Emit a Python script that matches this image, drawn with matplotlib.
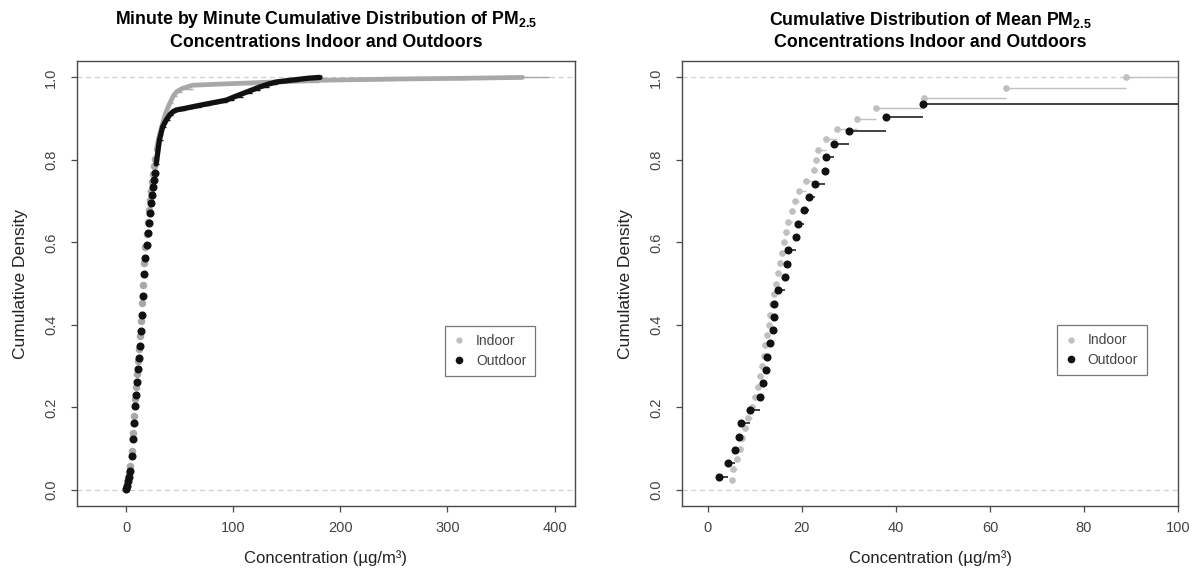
import numpy as np
import matplotlib
matplotlib.use("Agg")
import matplotlib.pyplot as plt
from matplotlib.lines import Line2D

plt.rcParams["font.family"] = ["Liberation Sans", "DejaVu Sans"]
plt.rcParams["mathtext.fontset"] = "custom"
plt.rcParams["mathtext.rm"] = "Liberation Sans"
plt.rcParams["mathtext.bf"] = "Liberation Sans:bold"

# ---- Minute-by-minute ECDF knots (concentration, cumulative fraction) ----
minute_outdoor_x = [0, 1, 2, 3, 4, 5, 6, 7, 8, 9, 10, 11, 12, 13, 14, 15, 16, 17,
                    18, 19, 20, 21, 22, 23, 24, 25, 26, 27, 28,
                    31, 34, 37.5, 40.6, 43.7, 46.9, 55, 62.4, 70, 78, 86, 93.7,
                    101, 109, 117, 125, 133, 140.6, 150, 160, 170, 181]
minute_outdoor_f = [0.002, 0.010, 0.022, 0.031, 0.046, 0.082, 0.123, 0.163, 0.203,
                    0.231, 0.261, 0.292, 0.320, 0.348, 0.385, 0.425, 0.469, 0.524,
                    0.562, 0.594, 0.622, 0.648, 0.671, 0.695, 0.715, 0.735, 0.751,
                    0.768, 0.790,
                    0.848, 0.880, 0.897, 0.909, 0.917, 0.921, 0.925, 0.929, 0.933,
                    0.937, 0.941, 0.945, 0.953, 0.961, 0.969, 0.977, 0.984, 0.989,
                    0.992, 0.995, 0.998, 1.000]

minute_indoor_x = [0, 1, 2, 3, 4, 5, 6, 7, 8, 9, 10, 11, 12, 13, 14, 15, 16, 17,
                   18, 19, 20, 21, 22, 23, 24, 25, 26, 27, 28,
                   31, 34, 37, 40.6, 44, 47, 52, 62, 80, 100, 130, 180, 250, 320, 370]
minute_indoor_f = [0.004, 0.014, 0.028, 0.040, 0.058, 0.095, 0.138, 0.180, 0.220,
                   0.250, 0.282, 0.312, 0.342, 0.372, 0.410, 0.452, 0.497, 0.550,
                   0.588, 0.620, 0.650, 0.678, 0.702, 0.725, 0.746, 0.766, 0.784,
                   0.803, 0.824,
                   0.860, 0.889, 0.915, 0.937, 0.955, 0.965, 0.973, 0.981, 0.983,
                   0.985, 0.988, 0.993, 0.996, 0.998, 1.000]

# ---- Per-site mean concentrations (ug/m3), sorted ----
mean_outdoor = [2.3, 4.2, 5.7, 6.7, 7.1, 9.0, 11.1, 11.7, 12.4, 12.6, 13.3, 13.9,
                14.0, 14.1, 15.0, 16.4, 16.8, 17.0, 18.8, 19.1, 20.5, 21.6, 22.7,
                24.9, 25.2, 26.9, 30.1, 37.9, 45.7, 110.0, 125.0]
mean_indoor = [5.1, 5.4, 6.2, 6.8, 7.3, 7.8, 8.6, 9.4, 10.1, 10.6, 11.0, 11.5,
               11.9, 12.2, 12.6, 13.0, 13.3, 13.6, 14.0, 14.4, 14.9, 15.3, 15.8,
               16.2, 16.6, 17.0, 17.8, 18.6, 19.4, 20.8, 22.5, 23.0, 23.5, 25.2,
               27.4, 31.7, 35.7, 45.9, 63.5, 89.0]

x_ticks_left = [0, 100, 200, 300, 400]
x_ticks_right = [0, 20, 40, 60, 80, 100]
y_ticks = [0.0, 0.2, 0.4, 0.6, 0.8, 1.0]

titles = [
    "Minute by Minute Cumulative Distribution of PM$_\\mathbf{2.5}$\nConcentrations Indoor and Outdoors",
    "Cumulative Distribution of Mean PM$_\\mathbf{2.5}$\nConcentrations Indoor and Outdoors",
]
x_label = "Concentration (µg/m³)"
y_label = "Cumulative Density"
legend_labels = ["Indoor", "Outdoor"]

BLACK = "#111111"
GREY_LINE = "#a8a8a8"
GREY_PT = "#c0c0c0"
FRAME = "#4a4a4a"
ZERO_ONE = "#cfcfcf"

fig = plt.figure(figsize=(11.93, 5.80), dpi=100)
ax1 = fig.add_axes([0.0645, 0.127, 0.4174, 0.768])
ax2 = fig.add_axes([0.5717, 0.127, 0.4158, 0.768])


def style_axes(ax, xlim, xticks, title):
    ax.set_xlim(*xlim)
    ax.set_ylim(-0.04, 1.04)
    ax.set_xticks(xticks)
    ax.set_xticklabels([str(t) for t in xticks])
    ax.set_yticks(y_ticks)
    ax.set_yticklabels([f"{t:.1f}" for t in y_ticks], rotation=90, va="center")
    ax.tick_params(direction="out", length=4.5, width=0.9, colors=FRAME,
                   labelsize=10.5, labelcolor="#444444")
    ax.tick_params(axis="y", pad=9)
    ax.tick_params(axis="x", pad=6)
    for s in ax.spines.values():
        s.set_color(FRAME)
        s.set_linewidth(1.0)
    ax.set_xlabel(x_label, fontsize=12, color="#222222", labelpad=11)
    ax.set_ylabel(y_label, fontsize=12.5, color="#222222", labelpad=12)
    ax.set_title(title, fontsize=12.8, fontweight="bold", pad=10, linespacing=1.3)
    for level in (0.0, 1.0):
        ax.axhline(level, color=ZERO_ONE, lw=0.9, ls=(0, (4, 3)), zorder=0)


def draw_ecdf_knots(ax, x, f, color, ms, seg_lw, right, z, points=None):
    x = np.asarray(x, dtype=float)
    f = np.asarray(f, dtype=float)
    ax.hlines(f[:-1], x[:-1], x[1:], color=color, lw=seg_lw, zorder=z)
    ax.hlines(f[-1], x[-1], right, color=color, lw=seg_lw, zorder=z)
    sel = np.ones(len(x), bool) if points is None else points
    ax.plot(x[sel], f[sel], ls="none", marker="o", ms=ms, mfc=color, mec=color,
            zorder=z)


# ---- Left panel: minute-by-minute ----
xl1 = (-46, 419)
style_axes(ax1, xl1, x_ticks_left, titles[0])

# knots above 28 ug/m3 are packed so tightly they read as a solid band
mi_x = np.array(minute_indoor_x, float)
mi_f = np.array(minute_indoor_f, float)
dense = mi_x >= 28
draw_ecdf_knots(ax1, mi_x, mi_f, GREY_LINE, 4.4, 1.0, 395, 2, points=~dense)
ax1.plot(mi_x[dense], mi_f[dense], color=GREY_LINE, lw=3.4,
         solid_capstyle="round", solid_joinstyle="round", zorder=2)

mo_x = np.array(minute_outdoor_x, float)
mo_f = np.array(minute_outdoor_f, float)
dense = mo_x >= 28
draw_ecdf_knots(ax1, mo_x, mo_f, BLACK, 4.8, 1.0, 181, 3, points=~dense)
ax1.plot(mo_x[dense], mo_f[dense], color=BLACK, lw=3.8,
         solid_capstyle="round", solid_joinstyle="round", zorder=3)

# ---- Right panel: per-site means ----
xl2 = (-5.5, 100)
style_axes(ax2, xl2, x_ticks_right, titles[1])


def ecdf(values):
    v = np.sort(np.asarray(values, float))
    n = len(v)
    return v, np.arange(1, n + 1) / n


ix, iff = ecdf(mean_indoor)
ox, off = ecdf(mean_outdoor)
draw_ecdf_knots(ax2, ix, iff, GREY_PT, 3.8, 1.0, 130, 2)
draw_ecdf_knots(ax2, ox, off, BLACK, 4.8, 1.1, 130, 3)
ax2.set_xlim(*xl2)

# ---- Legends ----
handles_small = [
    Line2D([], [], ls="none", marker="o", ms=3.5, mfc=GREY_PT, mec=GREY_PT),
    Line2D([], [], ls="none", marker="o", ms=4.5, mfc=BLACK, mec=BLACK),
]
for ax, box in ((ax1, (0.749, 0.289, 0.161, 0.119)), (ax2, (0.762, 0.293, 0.169, 0.115))):
    leg = ax.legend(handles_small, legend_labels, loc="center",
                    bbox_to_anchor=box, fontsize=10, frameon=True, fancybox=False,
                    edgecolor="#555555", handlelength=0.8, handletextpad=0.8,
                    borderpad=0.6, labelspacing=0.4, borderaxespad=0)
    leg.get_frame().set_linewidth(0.9)
    for t in leg.get_texts():
        t.set_color("#444444")

fig.savefig("out.png", dpi=100, facecolor="white")
